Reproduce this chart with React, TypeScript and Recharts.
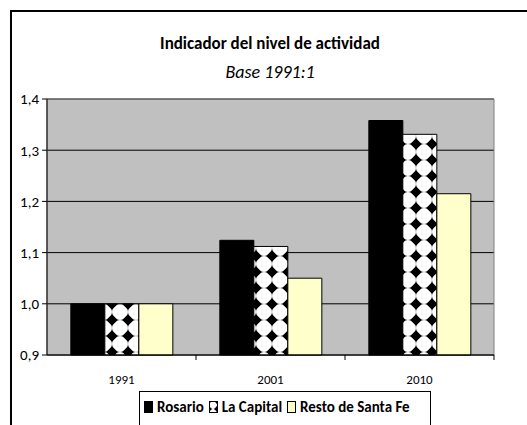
import { Bar, BarChart, CartesianGrid, ReferenceArea, XAxis, YAxis } from "recharts";

const years = ["1991", "2001", "2010"];
const rosario = [1.0, 1.124, 1.358];
const laCapital = [1.0, 1.112, 1.331];
const restoSantaFe = [1.0, 1.05, 1.215];
const yTicks = [0.9, 1.0, 1.1, 1.2, 1.3, 1.4];

const seriesNames = ["Rosario", "La Capital", "Resto de Santa Fe"];

const data = years.map((year, i) => ({
  year,
  rosario: rosario[i],
  laCapital: laCapital[i],
  resto: restoSantaFe[i],
}));

const FONT = "Carlito, Lato, 'Liberation Sans', sans-serif";

// x tick: label at band centre, tick mark at band boundary (like Excel)
function YearTick(props: any) {
  const { x, y, payload } = props;
  const half = payload?.offset ?? 74;
  return (
    <g>
      <line x1={x + half} x2={x + half} y1={y - 8} y2={y - 3} stroke="#000" />
      <text x={x} y={y + 21} textAnchor="middle" fontSize={13} fill="#000" fontFamily={FONT}>
        {payload.value}
      </text>
    </g>
  );
}

// white blobs with black diamonds where they meet
function Checker({ id, size }: { id: string; size: number }) {
  const d = size * 0.36;
  const diamond = (cx: number, cy: number) =>
    `M${cx} ${cy - d}L${cx + d} ${cy}L${cx} ${cy + d}L${cx - d} ${cy}Z`;
  return (
    <pattern id={id} patternUnits="userSpaceOnUse" width={size} height={size}>
      <rect width={size} height={size} fill="#000" />
      <circle cx={size / 2} cy={size / 2} r={size * 0.5} fill="#fff" />
      <path
        d={[diamond(0, 0), diamond(size, 0), diamond(0, size), diamond(size, size)].join("")}
        fill="#000"
      />
    </pattern>
  );
}

function LegendIcon({ fill }: { fill: string }) {
  return (
    <svg width={9} height={12} style={{ marginRight: 4, verticalAlign: "-1px" }}>
      <defs>
        <Checker id="checkerSmall" size={8} />
      </defs>
      <rect x={0.5} y={0.5} width={8} height={11} fill={fill} stroke="#000" />
    </svg>
  );
}

export default function App() {
  const fills = ["#000000", "url(#checkerSmall)", "#FFFFCC"];
  return (
    <div style={{ position: "absolute", left: 0, top: 0, width: 527, height: 425, background: "#fff", overflow: "hidden" }}>
      <div
        style={{
          position: "absolute",
          left: 10,
          top: 10,
          width: 517,
          height: 415,
          borderTop: "2px solid #000",
          borderLeft: "2px solid #000",
          boxSizing: "border-box",
        }}
      />
      <div
        style={{
          position: "absolute",
          left: 0,
          width: 540,
          top: 33,
          textAlign: "center",
          fontFamily: FONT,
          fontWeight: "bold",
          fontSize: 17,
        }}
      >
        Indicador del nivel de actividad
      </div>
      <div
        style={{
          position: "absolute",
          left: 0,
          width: 540,
          top: 61,
          textAlign: "center",
          fontFamily: FONT,
          fontStyle: "italic",
          fontSize: 18,
        }}
      >
        Base 1991:1
      </div>
      <div style={{ position: "absolute", left: 0, top: 0 }}>
        <BarChart
          width={527}
          height={425}
          data={data}
          margin={{ top: 99, right: 33, left: 0, bottom: 40 }}
          barCategoryGap="16%"
          barGap={0}
        >
          <defs>
            <Checker id="checker" size={16} />
          </defs>
          <CartesianGrid vertical={false} fill="#C0C0C0" stroke="#000" strokeWidth={1} />
          <ReferenceArea y1={0.9} y2={1.4} fill="none" stroke="#808080" ifOverflow="visible" />
          <XAxis
            dataKey="year"
            height={30}
            tickLine={false}
            axisLine={{ stroke: "#000" }}
            tick={<YearTick />}
            interval={0}
          />
          <YAxis
            width={47}
            domain={[0.9, 1.4]}
            ticks={yTicks}
            interval={0}
            tickSize={5}
            tickMargin={3}
            fontSize={15}
            axisLine={{ stroke: "#000" }}
            tickLine={{ stroke: "#000" }}
            tick={{ fontSize: 15, fill: "#000", fontFamily: FONT }}
            tickFormatter={(v: number) => v.toFixed(1).replace(".", ",")}
          />
          <Bar dataKey="rosario" name={seriesNames[0]} fill="#000" stroke="#000" isAnimationActive={false} />
          <Bar dataKey="laCapital" name={seriesNames[1]} fill="url(#checker)" stroke="#000" isAnimationActive={false} />
          <Bar dataKey="resto" name={seriesNames[2]} fill="#FFFFCC" stroke="#000" isAnimationActive={false} />
        </BarChart>
      </div>
      <div
        style={{
          position: "absolute",
          left: 139,
          top: 391,
          width: 292,
          height: 40,
          border: "1px solid #000",
          boxSizing: "border-box",
          background: "#fff",
          fontFamily: FONT,
          fontWeight: "bold",
          fontSize: 15,
          paddingTop: 6,
          paddingLeft: 4,
          whiteSpace: "nowrap",
        }}
      >
        {seriesNames.map((n, i) => (
          <span key={n} style={{ marginRight: 5 }}>
            <LegendIcon fill={fills[i]} />
            {n}
          </span>
        ))}
      </div>
    </div>
  );
}
